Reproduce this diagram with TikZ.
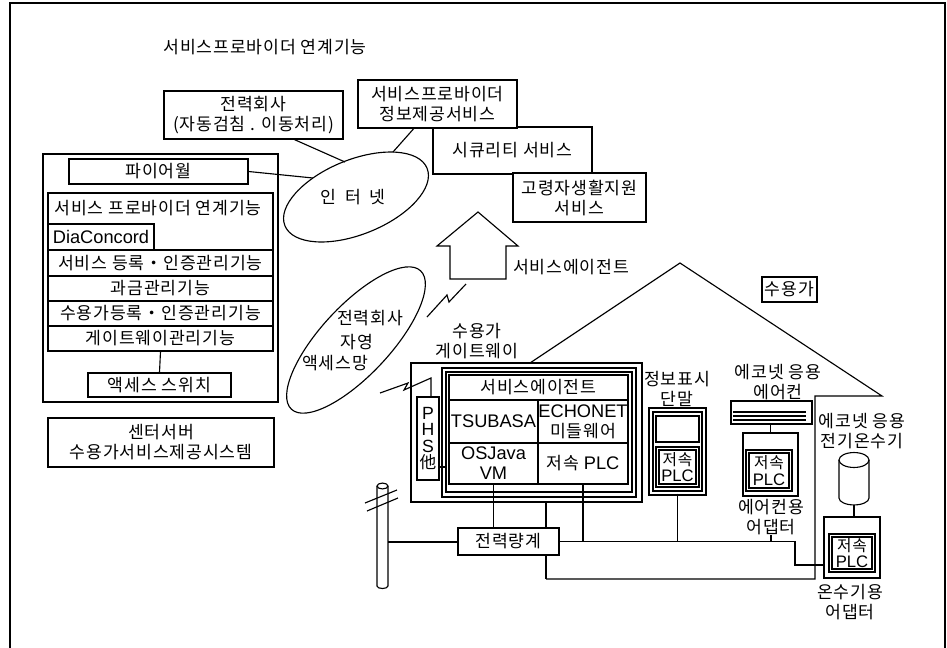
\documentclass[tikz,border=0pt]{standalone}
\usepackage{fontspec}
\setmainfont{Noto Sans CJK KR}[LetterSpace=5]
\newfontfamily\latf{Liberation Sans}[Scale=1.06]
\usetikzlibrary{calc,shapes.geometric}
\newcommand\kfs{\fontsize{12.9}{15}\selectfont}
\begin{document}
\begin{tikzpicture}[x=0.75pt,y=-0.75pt,line width=0.85pt,
  every node/.style={inner sep=0pt, align=center, font=\kfs},
  rect/.style args={#1/#2/#3/#4}{draw,
    minimum width={(#3-#1)*0.75pt}, minimum height={(#4-#2)*0.75pt},
    at={({(#1+#3)/2},{(#2+#4)/2})}},
  dbl/.style={double, double distance=#1},
  dbl/.default=1.4pt,
  plcfont/.style={font=\fontsize{11.8}{12.6}\selectfont},
]
\useasboundingbox (0,0) rectangle (947,647);

% outer frame
\draw (10,652) -- (10,3) -- (945,3) -- (945,652);

\node (title) at (265,47) {서비스프로바이더 연계기능};

% ---------- service providers ----------
\node[rect=164/91/343/139] (pw) {전력회사\\(자동검침 . 이동처리)};
\node[rect=433/127/592/174] (sec) {시큐리티 서비스};
\node[rect=358/80/517/128, fill=white] (sp) {서비스프로바이더\\정보제공서비스};
\node[rect=513/173/646/222, fill=white] (eld) {고령자생활지원\\서비스};

% internet cloud
\node[draw, ellipse, rotate=22, minimum width=115pt, minimum height=56pt] (inet) at (356,197) {};
\node (inettxt) at (353,197) {인\hspace{0.5em}터\hspace{0.5em}넷};

% ---------- center server ----------
\node[rect=43/154/278/402] (cs) {};
\node[rect=69/159/248/184] (fw) {파이어월};
\node[rect=48/193/273/250] (r1) {};
\node (r1txt) at (158,208) {서비스 프로바이더 연계기능};
\node[rect=48/224/154/250] (dia) {\latf DiaConcord};
\node[rect=48/250/273/276] (r2) {서비스 등록・인증관리기능};
\node[rect=48/276/273/301] (r3) {과금관리기능};
\node[rect=48/301/273/326] (r4) {수용가등록・인증관리기능};
\node[rect=48/326/273/351] (r5) {게이트웨이관리기능};
\node[rect=88/373/231/397] (asw) {액세스 스위치};
\draw (r5.south) -- (asw.north);
\node[rect=48/418/274/467] (csl) {센터서버\\수용가서비스제공시스템};

% links to the internet
\coordinate (inA) at (345,162);
\coordinate (inB) at (393,152);
\coordinate (inC) at (313,178);
\draw (pw.-31) -- (inA);
\draw (sp.-134) -- (inB);
\draw (fw.east) -- (inC);

% ---------- access network ----------
\node[draw, ellipse, rotate=47, minimum width=142pt, minimum height=52pt] (acc) at (356,340) {};
\node (acc1) at (370,318) {전력회사};
\node (acc2) at (357,342) {자영};
\node (acc3) at (335,363) {액세스망};

% service agent arrow
\draw (478,212) -- (518,246) -- (506,246) -- (506,279) -- (450,279) -- (450,246) -- (437,246) -- cycle;
\node (agtxt) at (571,267) {서비스에이전트};

% radio link
\coordinate (bolt1) at (427,317);
\draw (bolt1) -- (447,295) -- (449,302) -- (466,284);

% ---------- house ----------
\coordinate (apex) at (680,263);
\coordinate (roofL) at (530,363);
\coordinate (eave) at (882,396);
\coordinate (eaveIn) at (815,396);
\coordinate (wallB) at (815,579);
\node[rect=762/277/817/302] (home) {수용가};

% ---------- gateway ----------
\node (gwl) at (477,341) {수용가\\게이트웨이};
\node[rect=411/363/642/502] (gw) {};
\node[rect=442/368/636/497] (gwf1) {};
\node[rect=446/372/632/492] (gwf2) {};
\node[rect=449/375/628/400] (ag) {서비스에이전트};
\node[rect=449/400/538/443] (tsu) {\latf TSUBASA};
\node[rect=538/400/628/443] (ech) {{\latf ECHONET}\\미들웨어};
\node[rect=449/443/538/484] (vm) {{\latf OSJava}\\{\latf VM}};
\node[rect=538/443/628/484] (plc) {저속 {\latf PLC}};
\node[rect=417/397/439/480, fill=white, font=\fontsize{12.5}{12.4}\selectfont] (phs) {{\latf P}\\{\latf H}\\{\latf S}\\他};
\draw (phs.east |- 0,467) -- (gwf2.west |- 0,467);

% radio link into the gateway
\coordinate (bolt2) at (380,393);
\coordinate (phsTop) at (431,378);
\draw (bolt2) -- (408,383) -- (404,390) -- (phsTop) -- (phsTop |- phs.north);

% roof and wall
\draw (roofL) -- (apex) -- (eave) -- (eaveIn) -- (wallB) -- (546,579);

% ---------- meter and utility pole ----------
\node[rect=458/528/559/555] (mt) {전력량계};
\coordinate (poleR) at (388,542);
\draw (377,486) -- (377,586) arc[start angle=180, end angle=360, x radius=4.1pt, y radius=1.9pt] -- (388,486);
\draw (382.5,486) ellipse[x radius=4.1pt, y radius=2.2pt];
\draw (365,503) -- (397,490);
\draw (367,511) -- (398,498);
\draw (poleR) -- (mt.west |- poleR);

\draw (vm.south) -- (vm.south |- mt.north);
\coordinate (gwtap) at (546,502);
\draw (gwtap) -- (gwtap |- mt.north);
\draw (546,579) -- (546,555);

% ---------- information terminal ----------
\node (tml) at (677,389) {정보표시\\단말};
\node[rect=651/410/704/493, dbl=2.15pt] (tm) {};
\node[rect=656/416/699/442] (scr) {};
\node[rect=657.5/448.5/697.5/485.5, dbl, plcfont] (tplc) {저속\\{\latf PLC}};

% ---------- air conditioner ----------
\node (acl) at (778,382) {에코넷 응용\\에어컨};
\node[rect=731/401/812/424] (ac) {};
\draw[line width=1.1pt] (733,412) -- (806,412);
\draw[line width=1.1pt] (733,416) -- (806,416);
\draw[line width=1.1pt] (733,420) -- (806,420);
\node[rect=743/433/798/496] (aca) {};
\node[rect=747.5/451.5/790.5/489.5, dbl, plcfont] (acplc) {저속\\{\latf PLC}};
\draw (ac.south -| aca.north) -- (aca.north);
\node (acal) at (771,517) {에어컨용\\어댑터};

% ---------- water heater ----------
\node (whl) at (862,431) {에코넷 응용\\전기온수기};
\draw (839,460) -- (839,498) arc[start angle=180, end angle=360, x radius=11.25pt, y radius=5.2pt] -- (869,460);
\draw (854,460) ellipse[x radius=11.25pt, y radius=5.6pt];
\coordinate (whb) at (854,505);
\node[rect=824/517/880/578] (wha) {};
\node[rect=830.5/535.5/873.5/570.5, dbl, plcfont] (whplc) {저속\\{\latf PLC}};
\draw (whb) -- (whb |- wha.north);
\node (whal) at (850,602) {온수기용\\어댑터};

% ---------- indoor power line ----------
\coordinate (busR) at (795,541.5);
\draw (mt.east) -- (busR) -- (busR |- 0,565) -- (wha.west |- 0,565);
\draw (plc.south) -- (plc.south |- mt.east);
\draw (tm.south) -- (tm.south |- mt.east);
\draw (acal.south) -- (acal.south |- mt.east);
\end{tikzpicture}
\end{document}
